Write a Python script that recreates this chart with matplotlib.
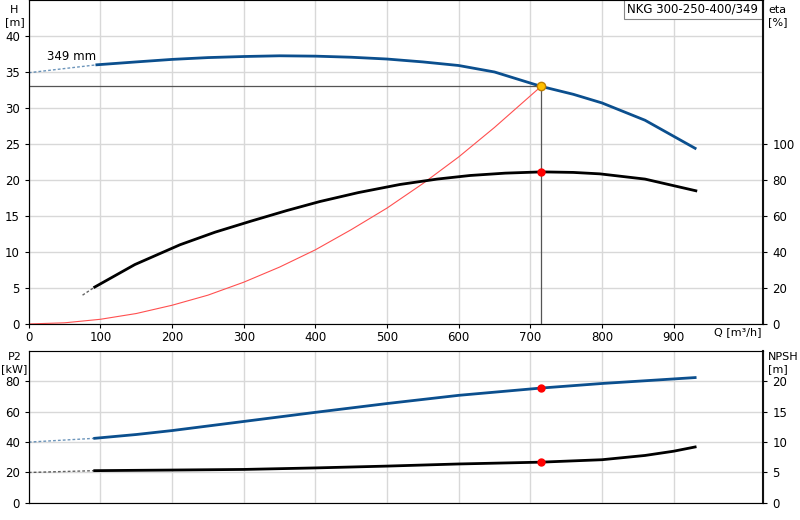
import matplotlib
matplotlib.use("Agg")
import matplotlib.pyplot as plt

q_h = [95, 150, 200, 250, 300, 350, 400, 450, 500, 550, 600, 650, 715, 760, 800, 860, 930]
h = [36.0, 36.4, 36.75, 37.0, 37.15, 37.25, 37.2, 37.05, 36.8, 36.4, 35.9, 35.0, 33.0, 31.9, 30.7, 28.3, 24.4]
q_h_ext = [0, 95]; h_ext = [34.9, 36.0]
q_eta = [92, 148, 211, 260, 309, 360, 406, 460, 518, 570, 616, 665, 716, 760, 797, 860, 931]
eta = [20.5, 33, 44, 51, 57, 63, 68, 73, 77.5, 80.5, 82.5, 83.8, 84.5, 84.2, 83.4, 80.5, 74]
q_eta_ext = [75, 92]; eta_ext = [16, 20.5]
q_sys = [0, 50, 100, 150, 200, 250, 300, 350, 400, 450, 500, 550, 600, 650, 715]
h_sys = [0, 0.16, 0.65, 1.45, 2.6, 4.0, 5.8, 7.9, 10.3, 13.1, 16.1, 19.5, 23.2, 27.3, 33.0]
q_p = [92, 150, 200, 300, 400, 500, 600, 715, 800, 870, 930]
p2 = [42.5, 45.0, 47.6, 53.6, 59.6, 65.4, 70.8, 75.6, 78.6, 80.7, 82.5]
q_p_ext = [0, 92]; p2_ext = [40, 42.5]
q_n = [92, 200, 300, 400, 500, 600, 715, 800, 860, 900, 930]
npsh = [5.3, 5.4, 5.5, 5.75, 6.05, 6.4, 6.7, 7.1, 7.8, 8.5, 9.2]
q_n_ext = [0, 92]; npsh_ext = [5.0, 5.3]
q_op, h_op, eta_op, p_op, n_op = 715, 33.0, 84.5, 75.5, 6.7

blue = "#0b4f8e"
fig = plt.figure(figsize=(8, 5.2), dpi=100)
ax = fig.add_axes([0.036, 0.377, 0.918, 0.623])
ax2 = ax.twinx()
bx = fig.add_axes([0.036, 0.033, 0.918, 0.292])
bx2 = bx.twinx()

for a in (ax, bx):
    a.set_xlim(0, 1025)
    a.set_xticks(range(0, 1000, 100))
    a.grid(True, color="#d8d8d8", lw=1)
    a.set_axisbelow(True)
    for s in a.spines.values():
        s.set_color("#888888")
    a.spines["left"].set_color("#222222")
    a.tick_params(labelsize=8.5, length=3)
for a in (ax2, bx2):
    a.spines["right"].set_color("#111111")
    a.spines["right"].set_linewidth(1.5)
    a.tick_params(labelsize=8.5, length=3)

ax.set_ylim(0, 45); ax.set_yticks(range(0, 45, 5))
ax2.set_ylim(0, 180); ax2.set_yticks(range(0, 120, 20))
bx.set_ylim(0, 100); bx.set_yticks(range(0, 100, 20))
bx2.set_ylim(0, 25); bx2.set_yticks(range(0, 25, 5))
bx.tick_params(axis="x", length=0, labelbottom=False)
ax.tick_params(axis="x", pad=2)

ax.plot(q_h_ext, h_ext, ls=(0, (2, 1.5)), color=blue, lw=1, alpha=0.6)
ax.plot(q_h, h, color=blue, lw=2)
ax.plot(q_sys, h_sys, color="#ff5050", lw=0.8)
ax.plot([0, q_op], [h_op, h_op], color="#555555", lw=0.9)
ax.plot([q_op, q_op], [0, h_op], color="#555555", lw=0.9)
ax.plot([q_op], [h_op], "o", color="#ffc000", mec="#c08000", ms=6, zorder=5)
ax.text(25, 36.6, "349 mm", fontsize=8.5)
ax.text(1018, 44.7, "NKG 300-250-400/349", fontsize=8.5, ha="right", va="top",
        bbox=dict(fc="white", ec="#888888", lw=0.8, pad=2.5))
ax.text(1023, -0.5, "Q [m³/h]", fontsize=8, ha="right", va="top")
ax2.plot(q_eta_ext, eta_ext, ls=(0, (2, 1.5)), color="black", lw=1, alpha=0.6)
ax2.plot(q_eta, eta, color="black", lw=2)
ax2.plot([q_op], [eta_op], "o", color="red", ms=5, zorder=5)

bx.plot(q_p_ext, p2_ext, ls=(0, (2, 1.5)), color=blue, lw=1, alpha=0.6)
bx.plot(q_p, p2, color=blue, lw=2)
bx.plot([q_op], [p_op], "o", color="red", ms=5, zorder=5)
bx2.plot(q_n_ext, npsh_ext, ls=(0, (2, 1.5)), color="black", lw=1, alpha=0.6)
bx2.plot(q_n, npsh, color="black", lw=2)
bx2.plot([q_op], [n_op], "o", color="red", ms=5, zorder=5)

fig.text(0.018, 0.99, "H\n[m]", fontsize=8, ha="center", va="top")
fig.text(0.96, 0.99, "eta\n[%]", fontsize=8, ha="left", va="top")
fig.text(0.018, 0.323, "P2\n[kW]", fontsize=8, ha="center", va="top")
fig.text(0.96, 0.323, "NPSH\n[m]", fontsize=8, ha="left", va="top")
fig.savefig("out.png", dpi=100)
